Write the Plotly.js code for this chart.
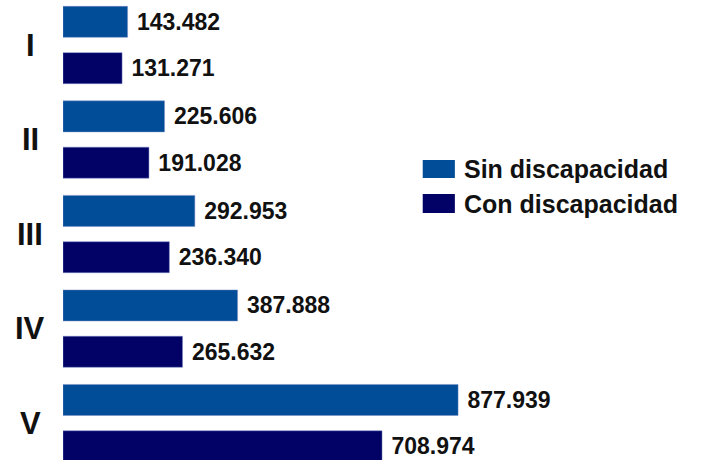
<!DOCTYPE html>
<html>
<head>
<meta charset="utf-8">
<script src="https://cdn.plot.ly/plotly-3.0.1.min.js"></script>
<style>html,body{margin:0;padding:0;background:#fff;}#chart{width:719px;height:460px;}</style>
</head>
<body>
<div id="chart"></div>
<script>
var categories = ["I", "II", "III", "IV", "V"];
var seriesNames = ["Sin discapacidad", "Con discapacidad"];
var sinDiscapacidad = [143482, 225606, 292953, 387888, 877939];
var conDiscapacidad = [131271, 191028, 236340, 265632, 708974];
var colors = ["#024D98", "#020266"];

var font = "Liberation Sans, Arial, Helvetica, sans-serif";
var seriesValues = [sinDiscapacidad, conDiscapacidad];

var traces = seriesValues.map(function (vals, i) {
  return {
    type: "bar",
    orientation: "h",
    name: seriesNames[i],
    y: categories,
    x: vals,
    marker: {color: colors[i], line: {color: "rgba(120,140,200,0.6)", width: 0.8}},
    texttemplate: "\u00a0%{x:,d}",
    textposition: "outside",
    textfont: {family: font, size: 23, color: "#111", weight: "bold"},
    cliponaxis: false,
    hoverinfo: "none"
  };
});

var annotations = categories.map(function (c) {
  return {
    xref: "paper", yref: "y", x: -0.052, y: c, text: "<b>" + c + "</b>",
    showarrow: false, xanchor: "center", yanchor: "middle",
    font: {family: font, size: 31, color: "#111"}
  };
});

var legY = [[0.652, 0.613, 0.633], [0.578, 0.537, 0.557]];
var shapes = [];
seriesNames.forEach(function (n, i) {
  shapes.push({type: "rect", xref: "paper", yref: "paper", x0: 0.571, x1: 0.622,
    y0: legY[i][1], y1: legY[i][0], fillcolor: colors[i], line: {width: 0}});
  annotations.push({xref: "paper", yref: "paper", x: 0.633, y: legY[i][2],
    text: "<b>" + n + "</b>", showarrow: false, xanchor: "left", yanchor: "middle",
    font: {family: font, size: 25, color: "#111"}});
});

var layout = {
  width: 719, height: 460,
  margin: {l: 63, r: 26, t: 0, b: 0},
  paper_bgcolor: "#fff", plot_bgcolor: "#fff",
  barmode: "group", bargap: 0.02, bargroupgap: 0.33,
  separators: ",.",
  showlegend: false,
  xaxis: {range: [0, 1400000], visible: false, fixedrange: true},
  yaxis: {type: "category", range: [4.39, -0.476], showticklabels: false,
    showgrid: false, zeroline: false, showline: false, ticks: ""},
  annotations: annotations,
  shapes: shapes
};

Plotly.newPlot("chart", traces, layout, {displayModeBar: false, staticPlot: true});
</script>
</body>
</html>
